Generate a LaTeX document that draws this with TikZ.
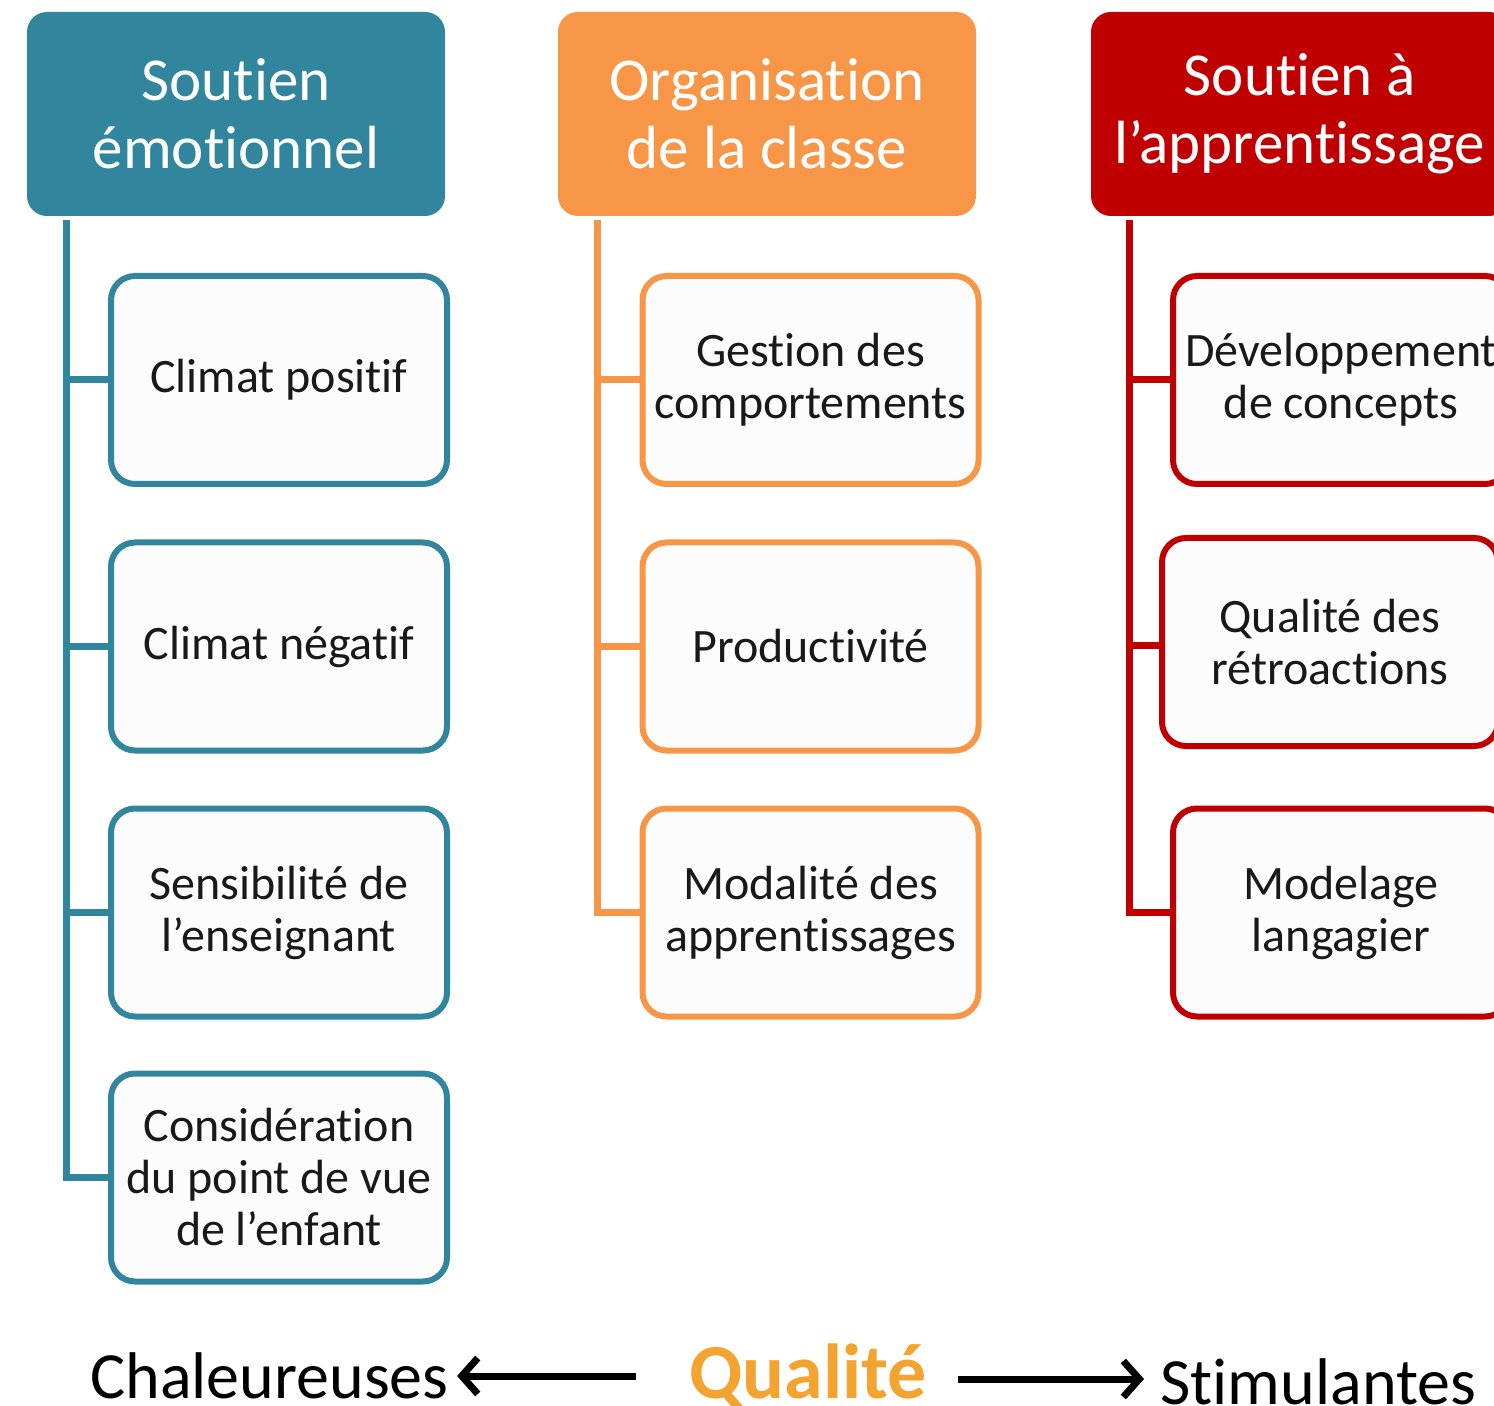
\documentclass[tikz,border=0pt]{standalone}
\usepackage{fontspec}
\setmainfont{Carlito}[Ligatures={TeX,NoCommon}]
\usetikzlibrary{arrows.meta,positioning}
\definecolor{emocolor}{HTML}{31859C}
\definecolor{orgcolor}{HTML}{F79646}
\definecolor{appcolor}{HTML}{C00000}
\definecolor{qualcolor}{HTML}{F3A32F}
\definecolor{boxfill}{HTML}{FCFCFC}

\begin{document}
\begin{tikzpicture}[x=0.5pt,y=-0.5pt,
    head/.style={fill=#1,text=white,rounded corners=10pt,minimum width=209pt,
      minimum height=102pt,align=center,inner sep=0pt,
      font=\fontsize{30.5pt}{34pt}\selectfont},
    dim/.style={draw=#1,fill=boxfill,line width=3pt,rounded corners=12pt,
      minimum width=168pt,minimum height=104pt,align=center,inner sep=0pt,
      text=black!90,font=\fontsize{24pt}{26pt}\selectfont},
    spine/.style={draw=#1,line width=3.5pt},
    bigarrow/.style={line width=3.5pt,-{Straight Barb[length=8pt,width=18pt,line width=3.5pt]}},
    side/.style={anchor=base west,inner sep=0pt,font=\fontsize{33pt}{36pt}\selectfont}]
  \useasboundingbox (0,0) rectangle (1494,1406);
  \clip (0,0) rectangle (1494,1406);

  \node[head=emocolor] (emo) at (236,114) {Soutien\\émotionnel};
  \node[head=orgcolor] (org) at (767,114) {Organisation\\de la classe};
  \node[head=appcolor] (app) at (1300,114) {Soutien à\\l’apprentissage};

  \node[dim=emocolor] (climpos) at (279,380)    {Climat positif};
  \node[dim=emocolor] (climneg) at (279,646.5)  {Climat négatif};
  \node[dim=emocolor] (sens)    at (279,912.5)  {Sensibilité de\\l’enseignant};
  \node[dim=emocolor] (consid)  at (279,1177.5) {Considération\\du point de vue\\de l’enfant};

  \node[dim=orgcolor] (gestion) at (810.5,380)   {Gestion des\\comportements};
  \node[dim=orgcolor] (prod)    at (810.5,646.5) {Productivité};
  \node[dim=orgcolor] (modal)   at (810.5,912.5) {Modalité des\\apprentissages};

  \node[dim=appcolor] (dev)     at (1341,380)   {Développement\\de concepts};
  \node[dim=appcolor] (retro)   at (1330,642)   {Qualité des\\rétroactions};
  \node[dim=appcolor] (model)   at (1341,912.5) {Modelage\\langagier};

  \coordinate (emoTop) at (66,220);
  \coordinate (orgTop) at (597,220);
  \coordinate (appTop) at (1129,220);
  \foreach \c in {climpos,climneg,sens,consid}
    \draw[spine=emocolor] (emoTop) |- (\c.west);
  \foreach \c in {gestion,prod,modal}
    \draw[spine=orgcolor] (orgTop) |- (\c.west);
  \foreach \c in {dev,model}
    \draw[spine=appcolor] (appTop) |- (\c.west);
  \draw[spine=appcolor] (appTop) |- (retro.west |- 0,646);

  \node[side] (chal) at (90,1398) {Chaleureuses};
  \node[side,text=qualcolor,font=\bfseries\fontsize{39pt}{42pt}\selectfont] (qual) at (689,1398) {Qualité};
  \node[side] (stim) at (1160,1404) {Stimulantes};

  \coordinate (qualL) at (636,1376);
  \coordinate (qualR) at (958,1379);
  \draw[bigarrow,shorten >=4pt] (qualL) -- (chal.east |- qualL);
  \draw[bigarrow,shorten >=8pt] (qualR) -- (stim.west |- qualR);
\end{tikzpicture}
\end{document}
